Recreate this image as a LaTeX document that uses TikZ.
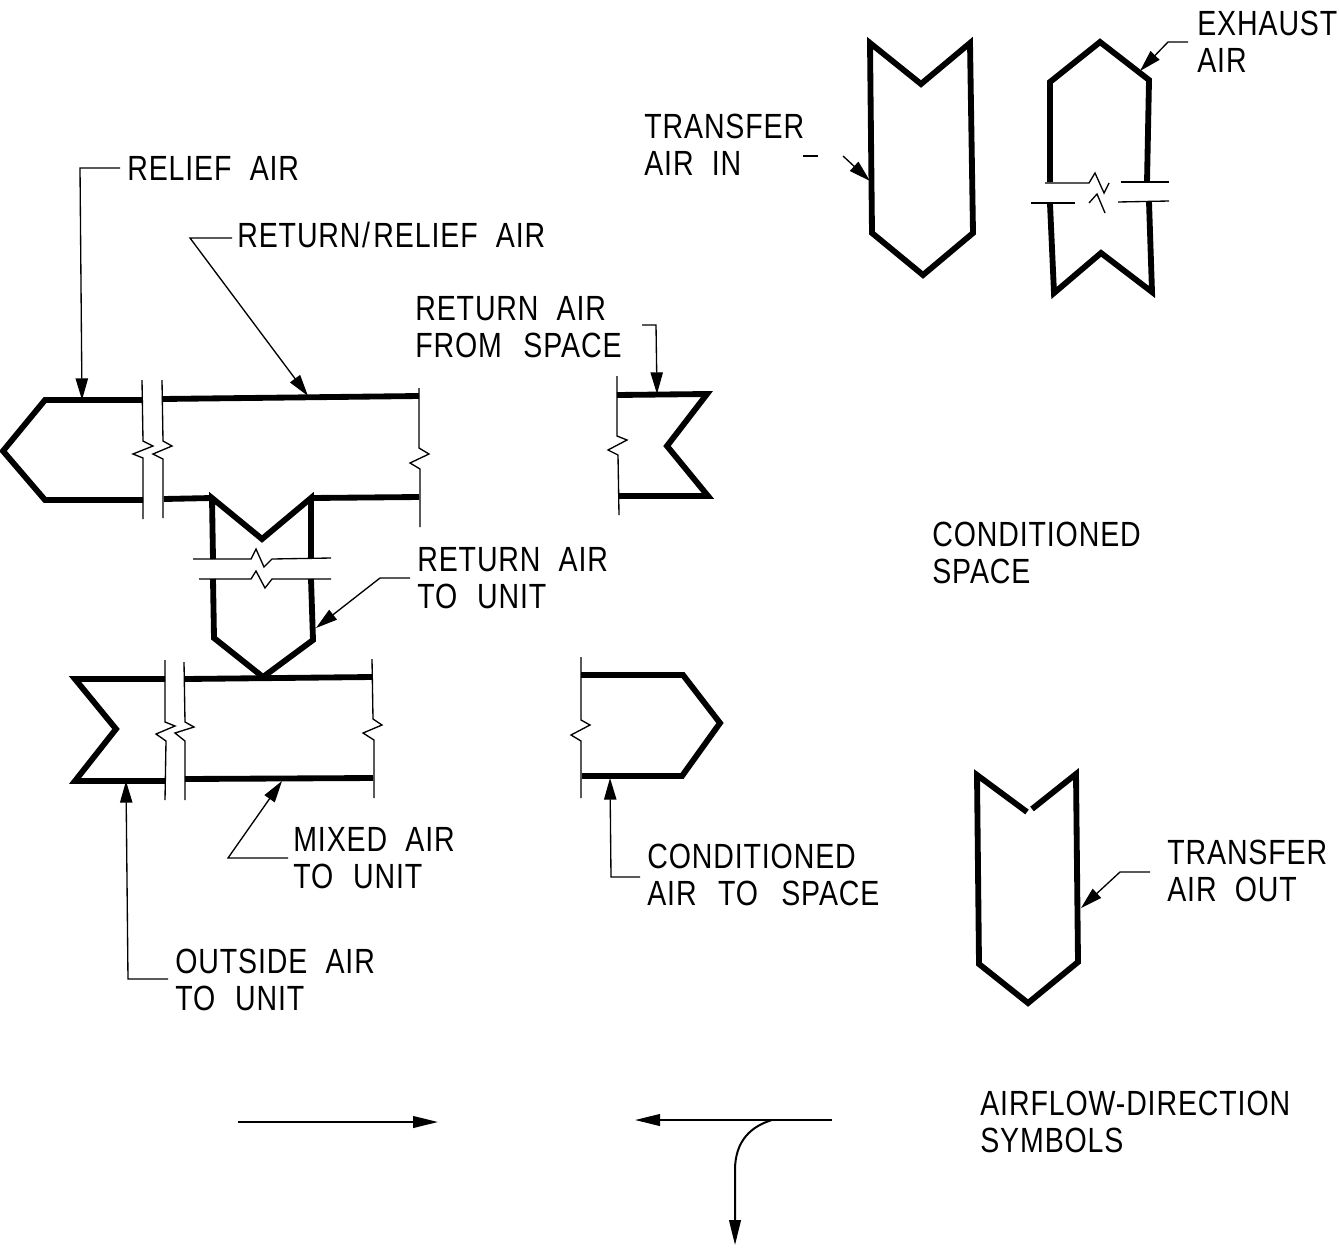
\documentclass[tikz,border=0pt]{standalone}
\usepackage{fontspec}
\setmainfont{Liberation Sans}[FakeStretch=0.815,LetterSpace=2.5]
\usetikzlibrary{arrows.meta}
\tikzset{
  duct/.style={line width=3.5pt,line join=miter,miter limit=3},
  breakline/.style={line width=0.8pt,line join=miter},
  leader/.style={line width=0.8pt,-{Triangle[length=13pt,width=7.4pt]}},
  flowline/.style={line width=1.2pt,-{Triangle[length=15pt,width=7pt]}},
  tag/.style={anchor=west,inner sep=0pt,align=left,font=\fontsize{21}{22.4}\selectfont},
}
\newcommand{\wsp}{\hspace{0.52em}}
\begin{document}
\begin{tikzpicture}[x=0.6pt,y=-0.6pt]
\useasboundingbox (0,0) rectangle (1340,1248);
% labels
\node[tag] (lRelief) at (127,168) {RELIEF\wsp AIR};
\node[tag] (lRetRel) at (237,235) {RETURN\kern1pt/\kern2ptRELIEF\wsp AIR};
\node[tag] (lRetSp) at (415,327) {RETURN\wsp AIR\\FROM\wsp\kern2pt SPACE};
\node[tag] (lRetUn) at (417,578) {RETURN\wsp AIR\\TO\wsp\kern1pt UNIT};
\node[tag] (lMixed) at (293,858) {MIXED\wsp AIR\\TO\wsp\kern1pt UNIT};
\node[tag] (lOut) at (175,980) {OUTSIDE\wsp AIR\\TO\wsp\kern1pt UNIT};
\node[tag] (lCond) at (647,875) {CONDITIONED\\AIR\wsp\kern2pt TO\wsp\kern3pt SPACE};
\node[tag] (lTrIn) at (644,145) {TRANSFER\\AIR\wsp IN};
\node[tag] (lExh) at (1197,42) {EXHAUST\\AIR};
\node[tag] (lSpace) at (932,553) {CONDITIONED\\SPACE};
\node[tag] (lTrOut) at (1167,871) {TRANSFER\\AIR\wsp OUT};
\node[tag] (lSym) at (980,1122) {AIRFLOW-DIRECTION\\SYMBOLS};
% relief / return duct
\draw[duct] (142,400) -- (45,400) -- (3,451) -- (45,500) -- (143,500);
\draw[duct] (162,399) -- (419,396);
\draw[duct] (164,499) -- (212,498);
\draw[duct] (311,498) -- (419,497);
\draw[duct] (617,395) -- (707,394) -- (667,446) -- (708,496) -- (618,496);
\draw[breakline] (142,380) -- (143,441) -- (153,446) -- (133,454) -- (143,458) -- (143,519);
\draw[breakline] (162,380) -- (163,441) -- (172,446) -- (153,454) -- (163,459) -- (163,518);
\draw[breakline] (419,388) -- (419,448) -- (429,454) -- (410,463) -- (420,469) -- (420,527);
\draw[breakline] (617,376) -- (617,436) -- (627,440) -- (608,450) -- (618,455) -- (619,515);
% branch
\draw[duct] (213,559) -- (212,498) -- (262,539) -- (311,498) -- (311,558);
\draw[duct] (213,579) -- (214,638) -- (263,677) -- (313,640) -- (311,579);
\draw[breakline] (193,559) -- (251,559) -- (256,549) -- (264,567) -- (272,559) -- (331,558);
\draw[breakline] (199,579) -- (251,579) -- (256,571) -- (265,588) -- (272,579) -- (331,579);
% supply duct
\draw[duct] (165,679) -- (75,679) -- (116,729) -- (75,781) -- (165,781);
\draw[duct] (185,679) -- (372,677);
\draw[duct] (185,779) -- (373,778);
\draw[duct] (581,675) -- (683,675) -- (720,723) -- (682,776) -- (582,776);
\draw[breakline] (165,660) -- (165,722) -- (175,726) -- (156,734) -- (166,741) -- (165,800);
\draw[breakline] (184,662) -- (185,722) -- (194,727) -- (175,733) -- (185,741) -- (185,800);
\draw[breakline] (372,659) -- (373,719) -- (382,725) -- (363,733) -- (374,740) -- (374,798);
\draw[breakline] (581,657) -- (581,720) -- (590,725) -- (571,735) -- (581,741) -- (581,798);
% transfer air in
\draw[duct] (870,43) -- (921,84) -- (970,43) -- (973,233) -- (923,275) -- (872,233) -- cycle;
% exhaust
\draw[duct] (1050,182) -- (1050,82) -- (1100,42) -- (1149,80) -- (1147,182);
\draw[duct] (1050,204) -- (1054,293) -- (1101,253) -- (1152,292) -- (1149,202);
\draw[breakline] (1045,183) -- (1089,183) -- (1095,173) -- (1104,193) -- (1109,183);
\draw[breakline] (1121,182) -- (1169,182);
\draw[breakline] (1031,203) -- (1075,203);
\draw[breakline] (1089,203) -- (1097,194) -- (1105,213);
\draw[breakline] (1118,202) -- (1169,201);
% transfer air out
\draw[duct] (1027,812) -- (977,775) -- (979,964) -- (1028,1003) -- (1078,962) -- (1076,774) -- (1032,809);
% leaders
\coordinate (a1) at (82,400);
\coordinate (b1) at (308,396);
\coordinate (c1) at (657,394);
\coordinate (d1) at (316,628);
\coordinate (e1) at (282,781);
\coordinate (f1) at (126,781);
\coordinate (g1) at (610,778);
\coordinate (h1) at (1081,908);
\coordinate (i1) at (870,181);
\coordinate (j1) at (1140,71);
\coordinate (i0) at (843,156);
\draw[leader] (lRelief.west) ++(-7,0) -- (80,168) -- (a1);
\draw[leader] (lRetRel.west) ++(-5,3) -- (190,238) -- (b1);
\draw[leader] (642,325) -- (656,325) -- (c1);
\draw[leader] (410,578) -- (380,578) -- (d1);
\draw[leader] (lMixed.west) ++(-5,0) -- (228,858) -- (e1);
\draw[leader] (lOut.west) ++(-7,-1) -- (128,979) -- (f1);
\draw[leader] (lCond.west) ++(-7,2) -- (611,877) -- (g1);
\draw[leader] (1150,872) -- (1120,872) -- (h1);
\draw[line width=0.7pt] (803,156) -- (818,156);
\draw[leader] (i0) -- (i1);
\draw[leader] (1188,42) -- (1168,42) -- (j1);
% airflow direction symbols
\coordinate (s1) at (238,1122);
\coordinate (s2) at (438,1122);
\coordinate (t0) at (832,1120);
\coordinate (t1) at (635,1120);
\coordinate (t2) at (735,1245);
\draw[flowline] (s1) -- (s2);
\draw[flowline] (t0) -- (t1);
\draw[flowline] (772,1120) .. controls (752,1126) and (735,1140) .. (735,1170) -- (t2);
\end{tikzpicture}
\end{document}
